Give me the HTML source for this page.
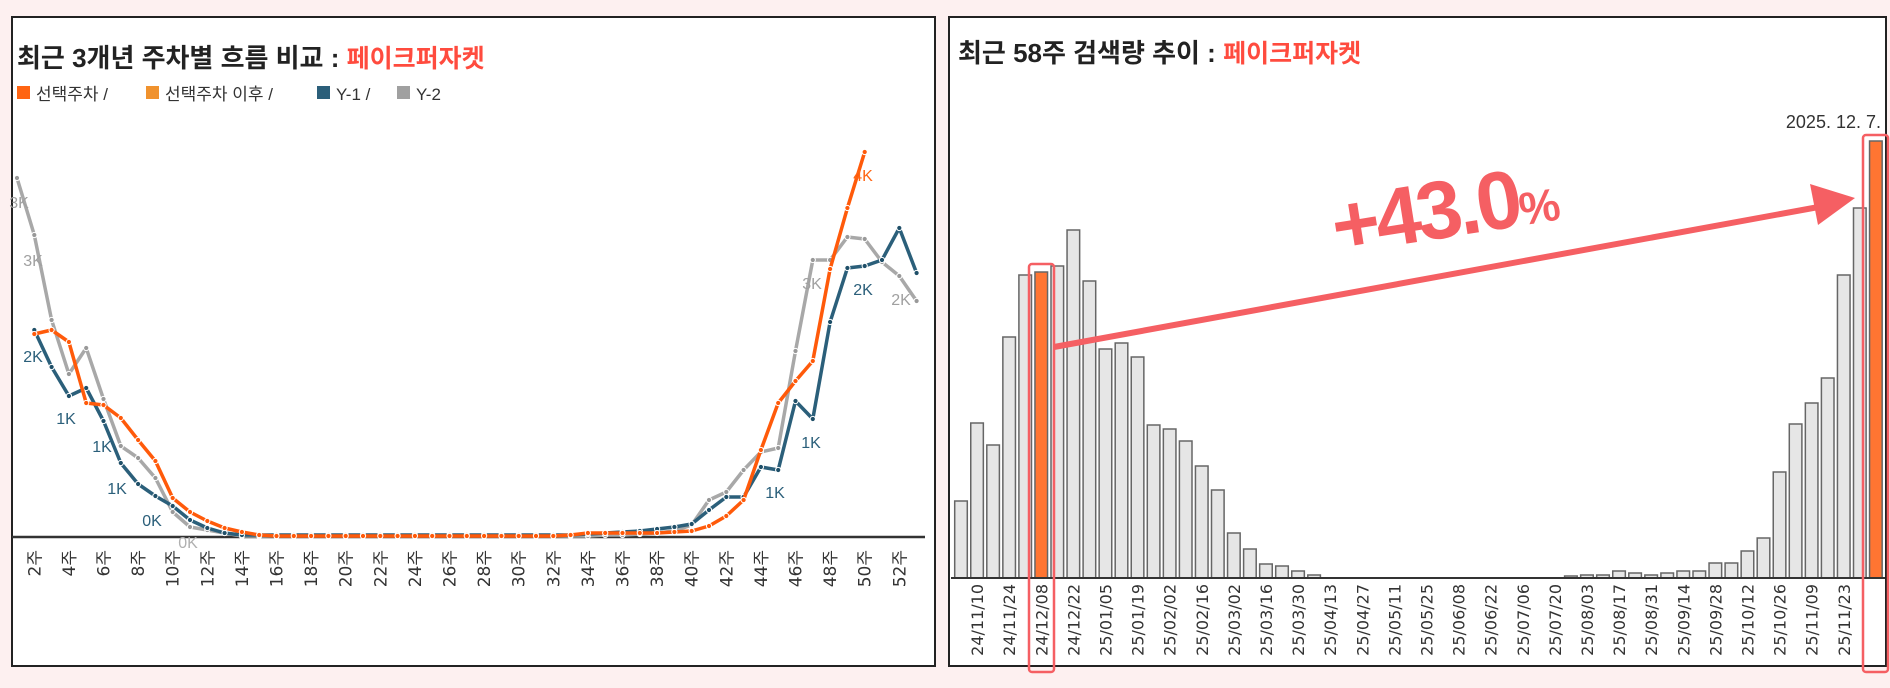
<!DOCTYPE html>
<html><head><meta charset="utf-8"><style>
html,body{margin:0;padding:0;background:#fdf0f0;}
svg{display:block;font-family:"Liberation Sans","Noto Sans CJK KR",sans-serif;}
</style></head><body>
<svg width="1890" height="688" viewBox="0 0 1890 688" xmlns="http://www.w3.org/2000/svg">
<rect x="0" y="0" width="1890" height="688" fill="#fdf0f0"/>
<rect x="12" y="17" width="923" height="649" fill="#fff" stroke="#222" stroke-width="2"/>
<text x="17" y="67" font-size="26" font-weight="bold" fill="#222">최근 3개년 주차별 흐름 비교 : <tspan fill="#ff4b3e" font-size="25">페이크퍼자켓</tspan></text>
<g font-size="17" fill="#333">
<rect x="17" y="86" width="13" height="13" fill="#ff6412"/><text x="36" y="100">선택주차 /</text>
<rect x="146" y="86" width="13" height="13" fill="#f0922e"/><text x="165" y="100">선택주차 이후 /</text>
<rect x="317" y="86" width="13" height="13" fill="#2b5f7a"/><text x="336" y="100">Y-1 /</text>
<rect x="397" y="86" width="13" height="13" fill="#a0a0a0"/><text x="416" y="100">Y-2</text>
</g>
<line x1="12" y1="537" x2="925" y2="537" stroke="#333" stroke-width="2.5"/>
<g id="lines" fill="none" stroke-width="3.5" stroke-linejoin="round"></g>
<g id="wk" font-size="17" fill="#333" style="font-family:'DejaVu Sans','Noto Sans CJK KR',sans-serif"></g>
<g font-size="16" text-anchor="middle">
<text x="19" y="208" fill="#a0a0a0">3K</text>
<text x="33" y="266" fill="#a0a0a0">3K</text>
<text x="33" y="362" fill="#2b5f7a">2K</text>
<text x="66" y="424" fill="#2b5f7a">1K</text>
<text x="102" y="452" fill="#2b5f7a">1K</text>
<text x="117" y="494" fill="#2b5f7a">1K</text>
<text x="152" y="526" fill="#2b5f7a">0K</text>
<text x="188" y="548" fill="#b0b0b0">0K</text>
<text x="812" y="289" fill="#a0a0a0">3K</text>
<text x="863" y="181" fill="#ff6412">4K</text>
<text x="863" y="295" fill="#2b5f7a">2K</text>
<text x="901" y="305" fill="#a0a0a0">2K</text>
<text x="811" y="448" fill="#2b5f7a">1K</text>
<text x="775" y="498" fill="#2b5f7a">1K</text>
</g>
<rect x="949" y="17" width="937" height="649" fill="#fff" stroke="#222" stroke-width="2"/>
<text x="958" y="62" font-size="26" font-weight="bold" fill="#222">최근 58주 검색량 추이 : <tspan fill="#ff4b3e" font-size="25">페이크퍼자켓</tspan></text>
<g id="bars"></g>
<line x1="951" y1="578" x2="1885" y2="578" stroke="#333" stroke-width="2"/>
<g id="dl" font-size="16" fill="#333" style="font-family:'DejaVu Sans',sans-serif"></g>
<text x="1881" y="128" font-size="18" fill="#333" text-anchor="end">2025. 12. 7.</text>
<rect x="1029" y="264" width="25" height="408" rx="3" fill="none" stroke="#f55f63" stroke-width="2.5"/>
<rect x="1863" y="135" width="25" height="537" rx="3" fill="none" stroke="#f55f63" stroke-width="2.5"/>
<line x1="1054" y1="347" x2="1835" y2="204" stroke="#f55f63" stroke-width="6"/>
<polygon points="1855,198 1810,184 1818,225" fill="#f55f63"/>
<g transform="rotate(-9 1440 205)"><text x="1330" y="238" font-size="82" font-weight="bold" fill="#f55f63" letter-spacing="-4">+43.0<tspan font-size="46">%</tspan></text></g>
</svg>
<script>
const NS="http://www.w3.org/2000/svg";
const X=w=>17+17.3*(w-1);
const gray=[178,235,320,374,348,399,446,458,478,512,527,530,533,536,536,536,536,536,536,536,536,536,536,536,536,536,536,536,536,536,536,536,536,536,535,535,534,533,531,525,500,492,470,452,448,351,260,260,237,239,262,276,301];
const blue=[null,330,367,396,388,421,463,484,496,506,520,528,533,535,535,535,535,535,535,535,535,535,535,535,535,535,535,535,535,535,535,535,535,534,533,532,531,529,527,524,510,497,497,467,470,401,419,322,268,266,260,228,273];
const orange=[null,334,330,342,403,405,418,440,461,498,512,521,528,532,535,536,536,536,536,536,536,536,536,536,536,536,536,536,536,536,536,536,535,533,533,533,533,533,532,531,526,516,500,450,403,381,361,269,208,152];
const L=document.getElementById('lines');
function draw(arr,col,dot){let pts=[];arr.forEach((y,i)=>{if(y!=null)pts.push([X(i+1),y]);});
 const p=document.createElementNS(NS,'polyline');p.setAttribute('points',pts.map(a=>a.join(',')).join(' '));p.setAttribute('stroke',col);L.appendChild(p);
 pts.forEach(a=>{const c=document.createElementNS(NS,'circle');c.setAttribute('cx',a[0]);c.setAttribute('cy',a[1]);c.setAttribute('r',2.6);c.setAttribute('fill',dot);c.setAttribute('stroke','#fff');c.setAttribute('stroke-width','1');L.appendChild(c);});}
draw(gray,'#a8a8a8','#999');draw(blue,'#2b5f7a','#1f4f68');draw(orange,'#ff5a0a','#ff5a0a');
const W=document.getElementById('wk');
for(let w=2;w<=52;w+=2){const t=document.createElementNS(NS,'text');const x=X(w)+6;t.setAttribute('transform',`translate(${x},550) rotate(-90)`);t.setAttribute('text-anchor','end');t.textContent=w+'주';W.appendChild(t);}
const tops=[501,423,445,337,275,272,266,230,281,349,343,357,425,429,441,466,490,533,549,564,566,571,575,577,577,577,577,577,577,577,577,577,577,577,577,577,577,577,576,575,575,571,573,575,573,571,571,563,563,551,538,472,424,403,378,275,208,141];
const B=document.getElementById('bars');
tops.forEach((t,i)=>{if(t>=577)return;const cx=961+16.05*i;const r=document.createElementNS(NS,'rect');r.setAttribute('x',cx-6.3);r.setAttribute('y',t);r.setAttribute('width',12.6);r.setAttribute('height',578-t);
 const hi=(i==5||i==57);r.setAttribute('fill',hi?'#ff7532':'#e6e6e6');r.setAttribute('stroke','#666');r.setAttribute('stroke-width','1.5');B.appendChild(r);});
const dates=["24/11/10","24/11/24","24/12/08","24/12/22","25/01/05","25/01/19","25/02/02","25/02/16","25/03/02","25/03/16","25/03/30","25/04/13","25/04/27","25/05/11","25/05/25","25/06/08","25/06/22","25/07/06","25/07/20","25/08/03","25/08/17","25/08/31","25/09/14","25/09/28","25/10/12","25/10/26","25/11/09","25/11/23"];
const D=document.getElementById('dl');
dates.forEach((d,k)=>{const i=1+2*k;const x=961+16.05*i+6;const t=document.createElementNS(NS,'text');t.setAttribute('transform',`translate(${x},584) rotate(-90)`);t.setAttribute('text-anchor','end');t.textContent=d;D.appendChild(t);});
</script>
</body></html>
